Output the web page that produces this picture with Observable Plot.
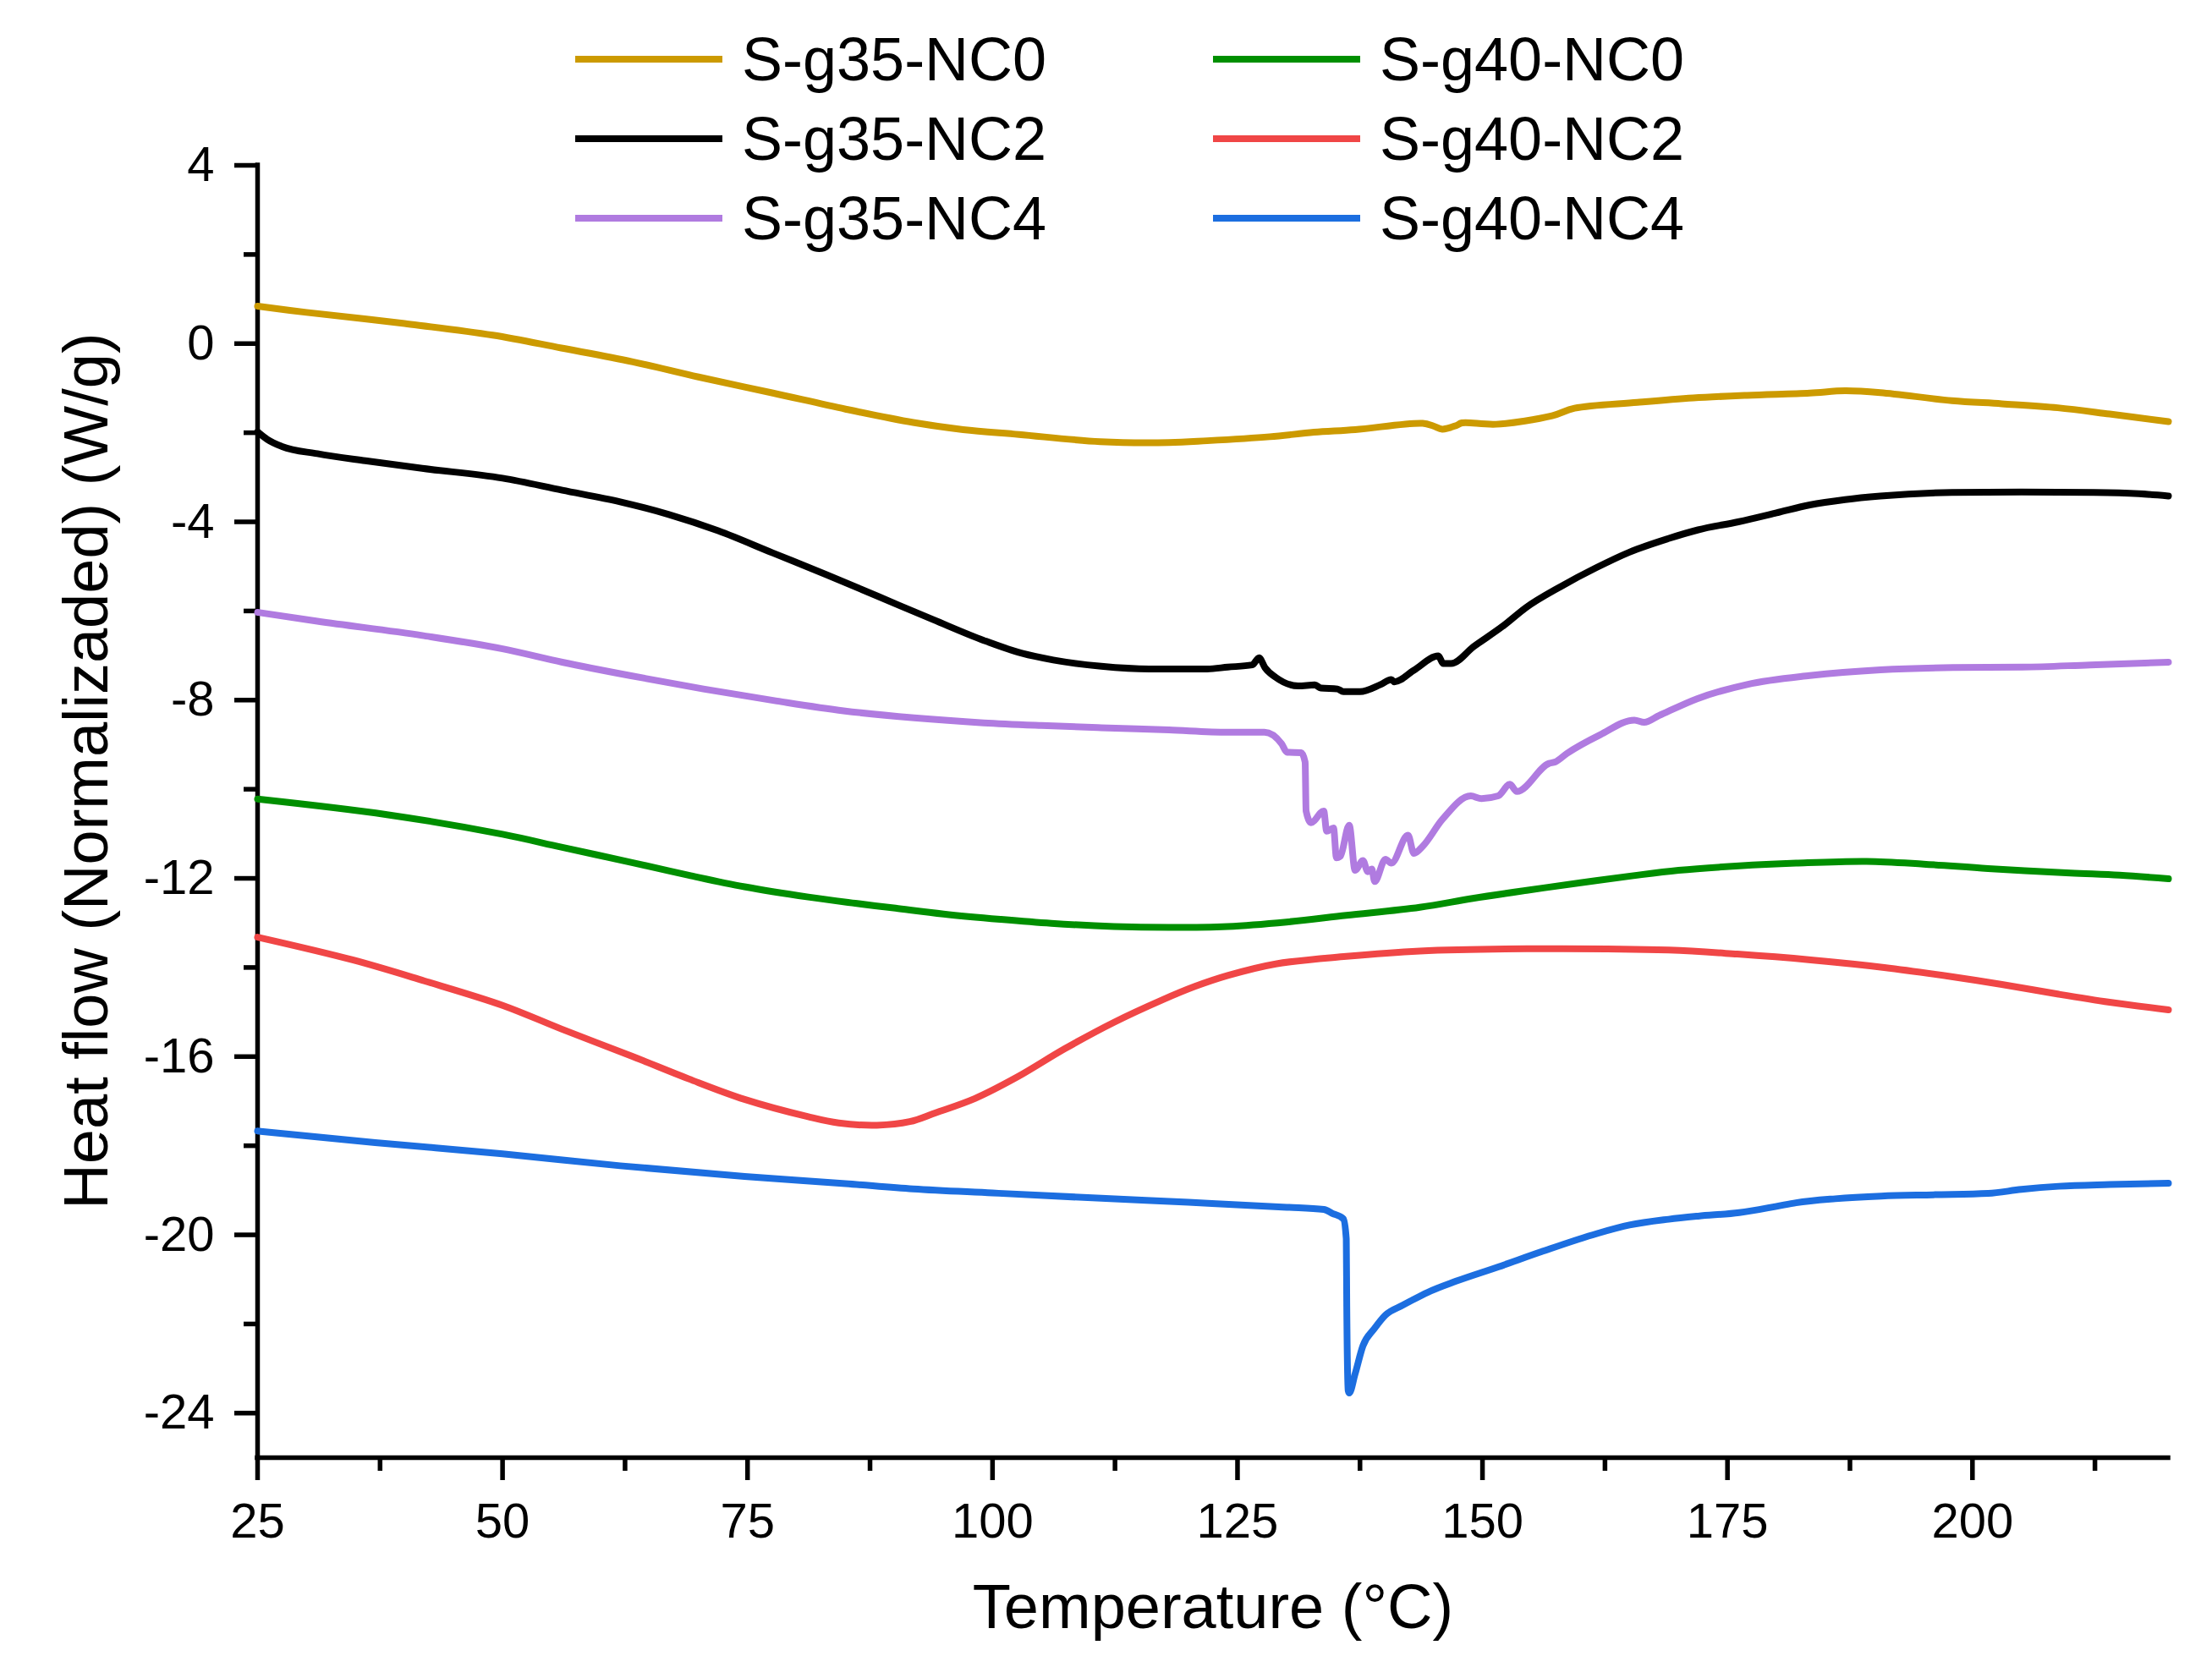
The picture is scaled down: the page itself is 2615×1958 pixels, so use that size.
<!DOCTYPE html>
<html>
<head>
<meta charset="utf-8">
<script src="https://cdn.jsdelivr.net/npm/d3@7"></script>
<script src="https://cdn.jsdelivr.net/npm/@observablehq/plot@0.6"></script>
<style>
  body { margin: 0; background: white; }
  #wrap { position: relative; width: 2615px; height: 1958px; font-family: "Liberation Sans", Arial, sans-serif; }
  #legend .item { position: absolute; display: flex; align-items: center; height: 100px; }
  #legend .swatch { display: inline-block; width: 174px; height: 8px; margin-right: 23px; }
  #legend .label { font-size: 72px; line-height: 1; color: black; }
</style>
</head>
<body>
<div id="wrap"><div id="legend"></div></div>
<script>
const seriesNames = ["S-g35-NC0", "S-g35-NC2", "S-g35-NC4", "S-g40-NC0", "S-g40-NC2", "S-g40-NC4"];
const seriesColors = ["#cc9a00", "#000000", "#b07be0", "#008f00", "#f04646", "#1c6ee0"];
const smoothSeries = ["S-g35-NC0", "S-g40-NC0", "S-g40-NC2"];

const xTicks = [25, 50, 75, 100, 125, 150, 175, 200];
const xMinorTicks = [37.5, 62.5, 87.5, 112.5, 137.5, 162.5, 187.5, 212.5];
const yTicks = [4, 0, -4, -8, -12, -16, -20, -24];
const yMinorTicks = [2, -2, -6, -10, -14, -18, -22];

const xTitle = "Temperature (°C)";
const yTitle = "Heat flow (Normalizaded) (W/g)";

// S-g35-NC0
const g35nc0T = [25, 30, 40, 49, 56, 63.3, 70, 77.6, 85, 91.9, 97, 102.7, 111, 118, 121.9, 128.3, 132.8, 137, 143.9, 145, 145.9, 147.3, 147.9, 151.4, 157.1, 159.4, 165.8, 171.5, 177, 183.4, 187, 190.6, 197.9, 203, 208.7, 214, 220];
const g35nc0V = [0.84, 0.7, 0.45, 0.19, -0.1, -0.41, -0.75, -1.11, -1.47, -1.77, -1.93, -2.04, -2.2, -2.22, -2.18, -2.09, -1.99, -1.93, -1.79, -1.85, -1.92, -1.84, -1.78, -1.81, -1.62, -1.45, -1.32, -1.22, -1.16, -1.11, -1.06, -1.1, -1.28, -1.35, -1.44, -1.58, -1.75];

// S-g35-NC2
const g35nc2T = [25, 26, 27.5, 31.1, 36, 41.8, 50, 56.1, 62, 66.9, 72, 77.6, 83, 88.4, 94, 99.1, 103, 106.2, 111.1, 116, 121.9, 124, 126.5, 127.2, 127.8, 128.9, 131.2, 132.9, 133.5, 135.2, 135.8, 137.5, 139.6, 140.7, 141, 143, 145.5, 146, 146.8, 149.1, 152.2, 154.4, 158, 161.6, 165, 168.9, 172, 176.1, 180, 183.4, 187, 190.6, 197.9, 205, 212.4, 217, 220];
const g35nc2V = [-1.98, -2.15, -2.31, -2.47, -2.63, -2.8, -3.02, -3.29, -3.55, -3.83, -4.2, -4.7, -5.18, -5.68, -6.2, -6.66, -6.95, -7.1, -7.24, -7.3, -7.3, -7.26, -7.21, -7.05, -7.27, -7.49, -7.68, -7.66, -7.73, -7.75, -7.81, -7.81, -7.65, -7.54, -7.59, -7.33, -7.01, -7.18, -7.18, -6.8, -6.32, -5.93, -5.45, -5.03, -4.68, -4.38, -4.18, -4.0, -3.8, -3.62, -3.5, -3.42, -3.34, -3.33, -3.34, -3.37, -3.42];

// S-g35-NC4
const g35nc4T = [25, 31.1, 41.8, 50, 56.1, 63, 70.5, 78, 84.8, 92, 99.1, 105, 111.1, 118, 124, 127.75, 129.5, 130.05, 131.5, 131.9, 132.0, 132.5, 133.8, 134.1, 134.8, 135.1, 135.5, 136.4, 137.0, 137.8, 138.3, 138.7, 139.0, 140.1, 140.7, 142.4, 143.0, 143.9, 145.9, 148.8, 149.9, 151.6, 152.8, 153.5, 156.8, 157.4, 158.6, 162, 165.5, 166.5, 168, 171.9, 177, 183.4, 190.6, 198, 205.1, 212, 220];
const g35nc4V = [-6.03, -6.23, -6.55, -6.85, -7.15, -7.45, -7.75, -8.02, -8.24, -8.4, -8.51, -8.57, -8.62, -8.67, -8.72, -8.72, -8.98, -9.17, -9.18, -9.39, -10.49, -10.75, -10.49, -10.94, -10.87, -11.54, -11.5, -10.81, -11.82, -11.6, -11.85, -11.79, -12.07, -11.57, -11.66, -11.03, -11.44, -11.28, -10.68, -10.15, -10.21, -10.15, -9.89, -10.05, -9.42, -9.39, -9.2, -8.78, -8.45, -8.5, -8.35, -7.97, -7.65, -7.45, -7.32, -7.27, -7.26, -7.21, -7.15];

// S-g40-NC0
const g40nc0T = [25, 38.2, 50, 56, 63.3, 69, 74.7, 81.2, 86, 90.1, 95, 100.8, 106, 112.4, 118, 124, 130, 136.1, 143.6, 149, 154.5, 160, 165.4, 170, 176.2, 182, 189.2, 195, 201.6, 210, 215, 220];
const g40nc0V = [-10.22, -10.57, -11.01, -11.3, -11.65, -11.93, -12.19, -12.42, -12.56, -12.67, -12.8, -12.92, -13.01, -13.08, -13.1, -13.08, -12.98, -12.83, -12.65, -12.45, -12.27, -12.1, -11.94, -11.82, -11.72, -11.66, -11.62, -11.68, -11.78, -11.88, -11.93, -12.01];

// S-g40-NC2
const g40nc2T = [25, 34.7, 42, 50, 56, 63.3, 69, 74.7, 81.2, 84.3, 88.2, 91.55, 94.2, 98.2, 102.5, 107.4, 112.4, 117.3, 120.6, 124, 128.9, 136.1, 143.6, 154.5, 169, 176, 183.5, 191, 198, 203, 208.8, 214, 220];
const g40nc2V = [-13.32, -13.83, -14.3, -14.85, -15.38, -16.0, -16.5, -16.96, -17.35, -17.49, -17.54, -17.46, -17.26, -16.94, -16.46, -15.82, -15.23, -14.73, -14.43, -14.18, -13.92, -13.75, -13.63, -13.58, -13.61, -13.7, -13.83, -14.0, -14.21, -14.38, -14.6, -14.78, -14.95];

// S-g40-NC4
const g40nc4T = [25, 37, 50, 62, 74.7, 85, 91.9, 100, 111.1, 120, 130.05, 133.8, 134.7, 135.8, 136.1, 136.15, 136.3, 136.4, 137.0, 137.8, 138.95, 140.1, 141.85, 142.7, 144.4, 147.3, 151.6, 156, 161.7, 165, 169, 172, 176.2, 180, 182, 186, 190.7, 196, 201.6, 205, 208.8, 214, 220];
const g40nc4V = [-17.67, -17.93, -18.18, -18.45, -18.69, -18.85, -18.97, -19.06, -19.18, -19.27, -19.38, -19.43, -19.52, -19.64, -20.09, -21.61, -23.5, -23.55, -23.12, -22.49, -22.11, -21.8, -21.58, -21.48, -21.29, -21.04, -20.72, -20.38, -19.97, -19.78, -19.65, -19.58, -19.5, -19.36, -19.28, -19.19, -19.13, -19.1, -19.07, -18.98, -18.91, -18.87, -18.84];

const seriesT = [g35nc0T, g35nc2T, g35nc4T, g40nc0T, g40nc2T, g40nc4T];
const seriesV = [g35nc0V, g35nc2V, g35nc4V, g40nc0V, g40nc2V, g40nc4V];

const rows = [];
seriesNames.forEach((name, i) => {
  seriesT[i].forEach((t, j) => rows.push({series: name, T: t, v: seriesV[i][j]}));
});
const smoothRows = rows.filter(d => smoothSeries.includes(d.series));
const sharpRows = rows.filter(d => !smoothSeries.includes(d.series));

const fmt = d => (d < 0 ? "-" + Math.abs(d) : String(d));
const AXW = 5.5;
const chart = Plot.plot({
  width: 2615,
  height: 1958,
  marginLeft: 304,
  marginRight: 52,
  marginTop: 195,
  marginBottom: 235,
  style: {fontFamily: "'Liberation Sans', Arial, sans-serif", background: "white", color: "black", overflow: "visible"},
  x: {domain: [25, 220]},
  y: {domain: [-25, 4]},
  color: {domain: seriesNames, range: seriesColors},
  marks: [
    Plot.axisX(xTicks, {tickSize: 27, tickPadding: 26, fontSize: 58, strokeWidth: AXW, tickFormat: fmt, label: null}),
    Plot.axisX(xMinorTicks, {tickSize: 16, tickFormat: () => "", strokeWidth: AXW, label: null}),
    Plot.axisY(yTicks, {tickSize: 27, tickPadding: 24, fontSize: 58, strokeWidth: AXW, tickFormat: fmt, label: null}),
    Plot.axisY(yMinorTicks, {tickSize: 16, tickFormat: () => "", strokeWidth: AXW, label: null}),
    Plot.ruleX([25], {strokeWidth: AXW, strokeLinecap: "square"}),
    Plot.ruleY([-25], {strokeWidth: AXW, strokeLinecap: "square"}),
    Plot.line(smoothRows, {x: "T", y: "v", z: "series", stroke: "series", strokeWidth: 8, curve: "catmull-rom"}),
    Plot.line(sharpRows, {x: "T", y: "v", z: "series", stroke: "series", strokeWidth: 8, curve: "monotone-x"}),
    Plot.text([xTitle], {text: d => d, frameAnchor: "bottom", lineAnchor: "middle", textAnchor: "middle", dy: 178, fontSize: 74}),
    Plot.text([yTitle], {text: d => d, frameAnchor: "left", lineAnchor: "middle", textAnchor: "middle", dx: -201, dy: -48, rotate: -90, fontSize: 74})
  ]
});
document.getElementById("wrap").prepend(chart);

// legend (HTML overlay)
const legendColLeft = [680, 1434];
const legendRowCenter = [70, 164, 258];
const legend = document.getElementById("legend");
seriesNames.forEach((name, i) => {
  const col = Math.floor(i / 3), row = i % 3;
  const item = document.createElement("div");
  item.className = "item";
  item.style.left = legendColLeft[col] + "px";
  item.style.top = (legendRowCenter[row] - 50) + "px";
  const sw = document.createElement("span");
  sw.className = "swatch";
  sw.style.background = seriesColors[i];
  const lb = document.createElement("span");
  lb.className = "label";
  lb.textContent = name;
  item.append(sw, lb);
  legend.append(item);
});
</script>
</body>
</html>
